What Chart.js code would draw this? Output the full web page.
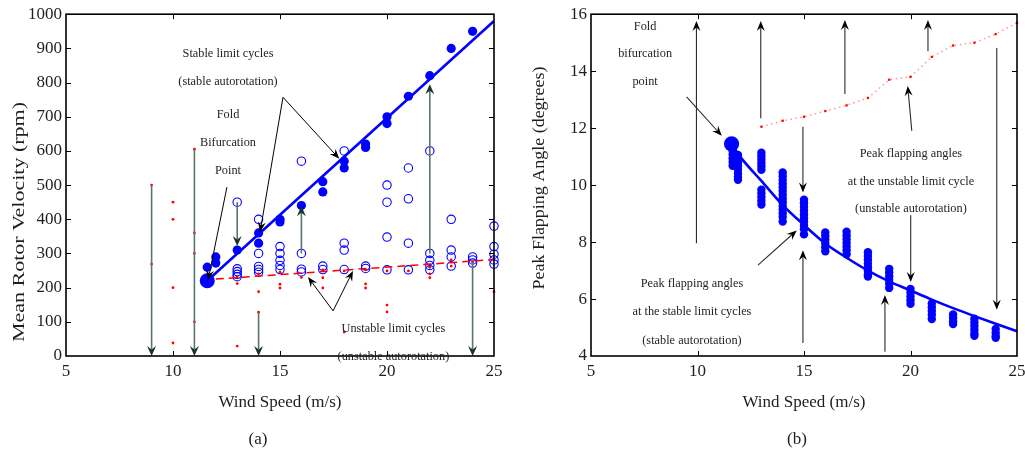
<!DOCTYPE html>
<html><head><meta charset="utf-8">
<script src="https://cdn.jsdelivr.net/npm/chart.js@4/dist/chart.umd.min.js"></script>
<style>
body{margin:0;background:#fff;width:1025px;height:462px;overflow:hidden;position:relative}
canvas{position:absolute;top:0}
#ca{left:0}#cb{left:520px}
</style></head>
<body>
<canvas id="ca" width="520" height="462"></canvas>
<canvas id="cb" width="515" height="462"></canvas>
<script>
// ---------- Panel (a) data ----------
const aStableWind = [11.6, 12, 12, 13, 14, 14, 15, 15, 16, 17, 17, 18, 18, 19, 19, 20, 20, 21, 22, 23, 24];
const aStableRpm  = [260, 290, 272, 310, 360, 330, 400, 392, 440, 510, 480, 570, 550, 620, 610, 700, 680, 760, 820, 900, 950];
const aFoldWind = [11.6];
const aFoldRpm  = [220];
const aStableFitWind = [11.6, 25];
const aStableFitRpm  = [220, 980];
const aUnstableFitWind = [12, 25];
const aUnstableFitRpm  = [225, 282];
const aOpenWind = [13,13,13,13,13, 14,14,14,14,14, 15,15,15,15,15, 16,16,16,16, 17,17, 18,18,18,18, 19,19, 20,20,20,20, 21,21,21,21, 22,22,22,22,22, 23,23,23,23, 24,24,24, 25,25,25,25,25];
const aOpenRpm  = [450,255,247,239,232, 400,300,262,253,245, 320,300,280,265,253, 570,300,254,246, 263,253, 600,330,310,253, 263,256, 500,450,348,252, 550,460,330,252, 600,300,280,265,252, 400,310,290,263, 290,281,272, 380,320,298,281,269];
const aRedWind = [9,9, 10,10,10,10, 11,11,11,11, 13,13,13, 14,14,14, 15,15,15, 16, 17,17,17, 18,18, 19,19,19, 20,20,20, 21, 22,22,22, 23,23, 24, 25];
const aRedRpm  = [500,269, 450,400,200,38, 605,360,300,100, 231,212,29, 240,188,128, 245,210,199, 230, 252,229,199, 249,70, 252,211,199, 249,149,129, 249, 260,240,229, 281,263, 275, 188];
const aXTicks = [5, 25, 5];      // min, max, step
const aYTicks = [0, 1000, 100];

// ---------- Panel (b) data ----------
const bStackWind = [11.65, 11.9, 13, 14, 15, 16, 17, 18, 19, 20, 21, 22, 23, 24];
const bStackFlap = [
  [11.33, 11.2, 11.07, 10.94, 10.81, 10.68],
  [11.06, 10.93, 10.8, 10.67, 10.54, 10.41, 10.28, 10.19],
  [11.14, 11.02, 10.9, 10.78, 10.66, 10.54, 9.84, 9.71, 9.58, 9.45, 9.32],
  [10.44, 10.31, 10.18, 10.05, 9.92, 9.79, 9.66, 9.53, 9.4, 9.27, 9.14, 9.01, 8.88, 8.72],
  [9.49, 9.36, 9.23, 9.1, 8.97, 8.84, 8.71, 8.58, 8.45, 8.27],
  [8.34, 8.21, 8.08, 7.95, 7.82, 7.68],
  [8.36, 8.23, 8.1, 7.97, 7.84, 7.71, 7.57],
  [7.64, 7.51, 7.38, 7.25, 7.12, 6.99, 6.86, 6.79],
  [7.06, 6.93, 6.8, 6.67, 6.54, 6.39],
  [6.35, 6.22, 6.09, 5.96, 5.83],
  [5.84, 5.71, 5.58, 5.45, 5.3],
  [5.46, 5.34, 5.22, 5.12],
  [5.31, 5.18, 5.05, 4.92, 4.79, 4.71],
  [4.95, 4.82, 4.7, 4.64]
];
const bFoldWind = [11.6];
const bFoldFlap = [11.45];
const bStableWind = [11.6, 12, 13, 14, 15, 16, 17, 18, 19, 20, 21, 22, 23, 24, 25];
const bStableFlap = [11.45, 11.0, 10.15, 9.3, 8.6, 7.95, 7.45, 7.0, 6.62, 6.3, 5.98, 5.68, 5.4, 5.13, 4.87];
const bUnstWind = [13, 14, 15, 16, 17, 18, 19, 20, 21, 22, 23, 24, 25];
const bUnstFlap = [12.05, 12.26, 12.4, 12.6, 12.8, 13.06, 13.7, 13.8, 14.5, 14.9, 15.0, 15.3, 15.7];
const bXTicks = [5, 25, 5];
const bYTicks = [4, 16, 2];

// ---------- annotations (data coordinates) ----------
const aTexts = [
  ['Stable limit cycles', 12.57, 883], ['(stable autorotation)', 12.57, 801],
  ['Fold', 12.57, 705], ['Bifurcation', 12.57, 623], ['Point', 12.57, 541],
  ['Unstable limit cycles', 20.3, 79], ['(unstable autorotation)', 20.3, -3]
];
const aBlackArrows = [
  [15.14, 757, 17.77, 577], [15.14, 757, 14.07, 363], [12.52, 494, 11.64, 222],
  [17.48, 132, 16.31, 231], [17.48, 132, 18.41, 249]
];
const aGreenArrows = [
  [9, 500, 9, 0], [11, 605, 11, 0], [13, 450, 13, 322], [14, 128, 14, 0],
  [16, 300, 16, 438], [22, 300, 22, 795], [24, 275, 24, 0]
];
const bTexts = [
  ['Fold', 7.54, 15.55], ['bifurcation', 7.54, 14.6], ['point', 7.54, 13.62],
  ['Peak flapping angles', 20.02, 11.1], ['at the unstable limit cycle', 20.02, 10.13], ['(unstable autorotation)', 20.02, 9.18],
  ['Peak flapping angles', 9.74, 6.52], ['at the stable limit cycles', 9.74, 5.55], ['(stable autorotation)', 9.74, 4.53]
];
const bArrows = [
  [9.95, 7.96, 9.95, 15.76], [12.97, 12.35, 12.97, 15.76], [16.92, 13.2, 16.92, 15.8],
  [20.82, 14.7, 20.82, 15.8], [20.06, 11.91, 19.87, 13.48], [24.05, 14.81, 24.05, 5.62],
  [14.95, 12.05, 14.95, 9.74], [14.95, 4.46, 14.95, 7.71], [18.8, 4.15, 18.8, 6.14],
  [20.01, 8.94, 20.01, 6.6], [9.49, 13.1, 11.14, 11.73], [12.84, 7.19, 14.66, 8.41]
];

const SERIF = '"Liberation Serif", "Times New Roman", serif';
const TXT = '#1e1e1e';

function zip(xs, ys) { return xs.map((v, i) => ({x: v, y: ys[i]})); }

function drawArrow(ctx, x1, y1, x2, y2, lineColor, headColor, L, W, lw) {
  const ang = Math.atan2(y2 - y1, x2 - x1);
  const c = Math.cos(ang), s = Math.sin(ang);
  const bx = x2 - L * c, by = y2 - L * s;
  const nx = x2 - L * 0.65 * c, ny = y2 - L * 0.65 * s;
  ctx.strokeStyle = lineColor; ctx.lineWidth = lw;
  ctx.beginPath(); ctx.moveTo(x1, y1); ctx.lineTo(nx, ny); ctx.stroke();
  ctx.fillStyle = headColor;
  ctx.beginPath(); ctx.moveTo(x2, y2);
  ctx.lineTo(bx - W * s, by + W * c);
  ctx.lineTo(nx, ny);
  ctx.lineTo(bx + W * s, by - W * c);
  ctx.closePath(); ctx.fill();
}

function vText(ctx, text, cx, cy, font, len) {
  ctx.save(); ctx.font = font;
  const w = ctx.measureText(text).width;
  ctx.translate(cx, cy); ctx.rotate(-Math.PI / 2); ctx.scale(len / w, 1);
  ctx.textAlign = 'center'; ctx.textBaseline = 'middle'; ctx.fillStyle = TXT;
  ctx.fillText(text, 0, 0); ctx.restore();
}

function decor(p) {
  return {
    id: 'decor',
    afterDatasetsDraw(chart) {
      const ctx = chart.ctx, a = chart.chartArea, x = chart.scales.x, y = chart.scales.y;
      ctx.save();
      // inward ticks on all four sides
      ctx.strokeStyle = '#000'; ctx.lineWidth = 1;
      ctx.beginPath();
      x.ticks.forEach(t => {
        if (t.value <= x.min || t.value >= x.max) return;
        const px = Math.round(x.getPixelForValue(t.value)) + 0.5;
        ctx.moveTo(px, a.bottom); ctx.lineTo(px, a.bottom - 5);
        ctx.moveTo(px, a.top); ctx.lineTo(px, a.top + 5);
      });
      y.ticks.forEach(t => {
        if (t.value <= y.min || t.value >= y.max) return;
        const py = Math.round(y.getPixelForValue(t.value)) + 0.5;
        ctx.moveTo(a.left, py); ctx.lineTo(a.left + 5, py);
        ctx.moveTo(a.right, py); ctx.lineTo(a.right - 5, py);
      });
      ctx.stroke();
      // box
      ctx.lineWidth = 1.6;
      ctx.strokeRect(a.left, a.top, a.right - a.left, a.bottom - a.top);
      // arrows
      p.arrows.forEach(ar => {
        drawArrow(ctx, x.getPixelForValue(ar.d[0]), y.getPixelForValue(ar.d[1]),
          x.getPixelForValue(ar.d[2]), y.getPixelForValue(ar.d[3]),
          ar.line, ar.head, ar.L, ar.W, ar.lw);
      });
      // annotation texts
      ctx.font = '12.3px ' + SERIF; ctx.fillStyle = TXT;
      ctx.textAlign = 'center'; ctx.textBaseline = 'middle';
      p.texts.forEach(t => ctx.fillText(t[0], x.getPixelForValue(t[1]), y.getPixelForValue(t[2])));
      // axis titles & caption
      ctx.font = '17px ' + SERIF;
      ctx.fillText(p.xTitle, (a.left + a.right) / 2, 403);
      ctx.fillText(p.caption, p.capX, 440);
      vText(ctx, p.yTitle, p.yTitleX, p.yTitleY, '17px ' + SERIF, p.yTitleLen);
      ctx.restore();
    }
  };
}

function scaleOpts(t, fixed, isX) {
  return {
    type: 'linear', min: t[0], max: t[1],
    ticks: {stepSize: t[2], font: {family: SERIF, size: 17}, color: TXT, padding: isX ? 5 : 4, maxRotation: 0,
      callback: v => String(v)},
    grid: {display: false, drawTicks: false},
    border: {display: false},
    afterFit(s) { if (isX) s.height = fixed; else s.width = fixed; }
  };
}

function baseOptions(xt, yt, yw, pad) {
  return {
    responsive: false, animation: false, events: [],
    plugins: {legend: {display: false}, tooltip: {enabled: false}},
    layout: {padding: pad},
    scales: {x: scaleOpts(xt, 106, true), y: scaleOpts(yt, yw, false)}
  };
}

// ---------- Chart (a) ----------
const aArrows = aBlackArrows.map(d => ({d, line: '#000', head: '#000', L: 10, W: 4, lw: 1}))
  .concat(aGreenArrows.map(d => ({d, line: '#5b7568', head: '#16362a', L: 10, W: 4.5, lw: 1.6})));
new Chart(document.getElementById('ca'), {
  type: 'scatter',
  data: {datasets: [
    {data: zip(aFoldWind, aFoldRpm), pointRadius: 7.5, backgroundColor: '#0000ff', borderWidth: 0, clip: false},
    {data: zip(aStableFitWind, aStableFitRpm), showLine: true, borderColor: '#0000ff', borderWidth: 2.6, pointRadius: 0, clip: false},
    {data: zip(aStableWind, aStableRpm), pointRadius: 4.6, backgroundColor: '#0000ff', borderWidth: 0, clip: false},
    {data: zip(aRedWind, aRedRpm), pointRadius: 1.4, backgroundColor: '#ff0000', borderWidth: 0, clip: false},
    {data: zip(aUnstableFitWind, aUnstableFitRpm), showLine: true, borderColor: '#ff0000', borderDash: [8, 5], borderWidth: 1.5, pointRadius: 0, clip: false},
    {data: zip(aOpenWind, aOpenRpm), pointRadius: 4.2, backgroundColor: 'rgba(0,0,0,0)', borderColor: '#0000ff', borderWidth: 1.1, clip: false}
  ]},
  options: baseOptions(aXTicks, aYTicks, 66, {top: 14, right: 26, left: 0, bottom: 0}),
  plugins: [decor({arrows: aArrows, texts: aTexts, xTitle: 'Wind Speed (m/s)', caption: '(a)', capX: 258,
    yTitle: 'Mean Rotor Velocity (rpm)', yTitleX: 20, yTitleY: 222, yTitleLen: 240})]
});

// ---------- Chart (b) ----------
const bStackPts = [];
bStackWind.forEach((w, i) => bStackFlap[i].forEach(v => bStackPts.push({x: w, y: v})));
const bArrowObjs = bArrows.map(d => ({d, line: '#2a2a2a', head: '#000', L: 10, W: 4, lw: 1.1}));
new Chart(document.getElementById('cb'), {
  type: 'scatter',
  data: {datasets: [
    {data: zip(bFoldWind, bFoldFlap), pointRadius: 7.6, backgroundColor: '#0000ff', borderWidth: 0, clip: false},
    {data: bStackPts, pointRadius: 4.2, backgroundColor: '#0000ff', borderWidth: 0, clip: false},
    {data: zip(bStableWind, bStableFlap), showLine: true, cubicInterpolationMode: 'monotone', borderColor: '#0000ff', borderWidth: 2.6, pointRadius: 0, clip: false},
    {data: zip(bUnstWind, bUnstFlap), showLine: true, borderColor: 'rgba(255,60,60,0.55)', borderDash: [1.5, 3.5], borderWidth: 1.5,
      pointStyle: 'rect', pointRadius: 1.6, backgroundColor: '#ff0000', pointBorderWidth: 0, clip: false}
  ]},
  options: baseOptions(bXTicks, bYTicks, 71, {top: 13, right: 18, left: 0, bottom: 0}),
  plugins: [decor({arrows: bArrowObjs, texts: bTexts, xTitle: 'Wind Speed (m/s)', caption: '(b)', capX: 277,
    yTitle: 'Peak Flapping Angle (degrees)', yTitleX: 20, yTitleY: 178, yTitleLen: 223})]
});
</script>
</body></html>
